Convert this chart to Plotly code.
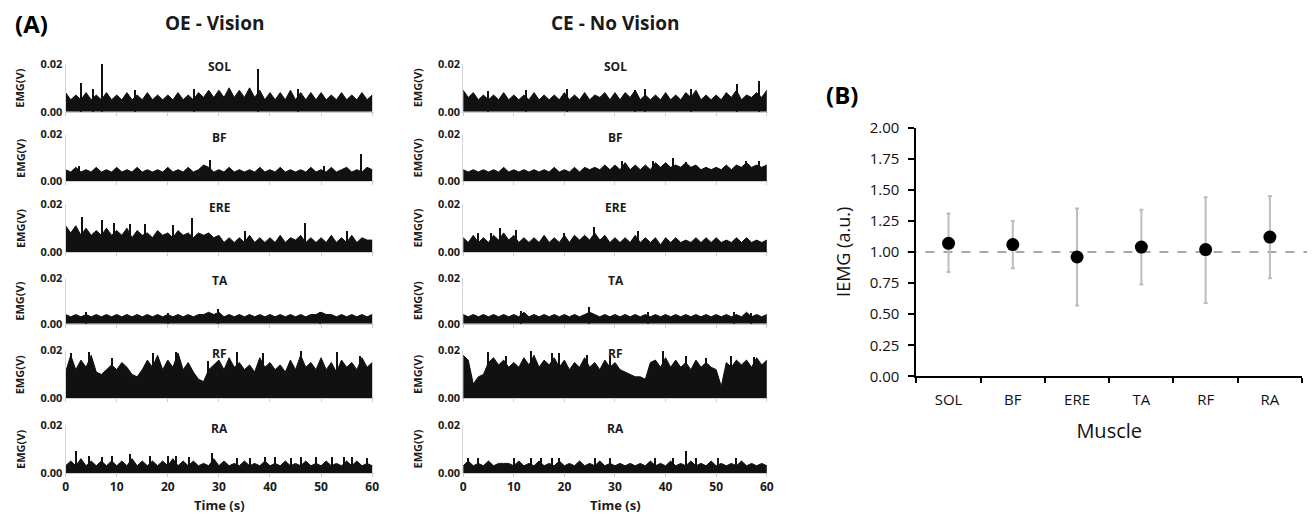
import plotly.graph_objects as go

W, H = 1312, 519

# ---------------- data ----------------
TIME = list(range(0, 61))
TIME_TICKS = [0, 10, 20, 30, 40, 50, 60]
MUSCLES = ["SOL", "BF", "ERE", "TA", "RF", "RA"]

OE_SOL = [0.008,0.005,0.007,0.005,0.008,0.005,0.007,0.005,0.008,0.005,
          0.007,0.005,0.008,0.005,0.007,0.005,0.008,0.005,0.007,0.005,
          0.007,0.005,0.008,0.005,0.007,0.005,0.008,0.006,0.009,0.006,
          0.009,0.006,0.010,0.006,0.009,0.006,0.010,0.006,0.009,0.005,
          0.008,0.005,0.008,0.005,0.009,0.005,0.008,0.005,0.008,0.005,
          0.008,0.005,0.007,0.005,0.008,0.005,0.007,0.005,0.008,0.005,0.007]
OE_SOL_PEAKS = [(3.0,0.012),(7.0,0.020),(37.6,0.018),(5.3,0.0095),(13.5,0.009),(25.0,0.0095),(45.5,0.0095)]

OE_BF = [0.005,0.004,0.006,0.004,0.005,0.004,0.006,0.004,0.005,0.004,
         0.006,0.004,0.005,0.004,0.006,0.004,0.005,0.004,0.005,0.004,
         0.006,0.004,0.005,0.004,0.006,0.004,0.005,0.007,0.006,0.004,
         0.005,0.004,0.006,0.004,0.005,0.004,0.005,0.004,0.006,0.004,
         0.005,0.004,0.006,0.004,0.005,0.004,0.005,0.004,0.006,0.004,
         0.005,0.004,0.006,0.004,0.005,0.006,0.004,0.005,0.004,0.006,0.005]
OE_BF_PEAKS = [(28.1,0.0093),(57.7,0.012),(2.5,0.0068),(50.5,0.0068)]

OE_ERE = [0.011,0.008,0.011,0.007,0.010,0.007,0.009,0.007,0.010,0.007,
          0.009,0.007,0.010,0.006,0.009,0.007,0.008,0.006,0.009,0.007,
          0.008,0.006,0.009,0.007,0.008,0.006,0.008,0.007,0.008,0.006,
          0.007,0.004,0.006,0.004,0.006,0.004,0.007,0.004,0.006,0.004,
          0.006,0.004,0.007,0.004,0.006,0.005,0.007,0.004,0.006,0.004,
          0.006,0.004,0.007,0.004,0.006,0.004,0.007,0.004,0.006,0.005,0.005]
OE_ERE_PEAKS = [(3.2,0.0144),(7.1,0.0133),(9.5,0.012),(12.5,0.0115),(15.5,0.0115),(24.7,0.014),
                (21.0,0.011),(46.7,0.012),(35.0,0.0085),(55.0,0.0085)]

OE_TA = [0.004,0.003,0.004,0.003,0.004,0.003,0.004,0.003,0.004,0.003,
         0.004,0.003,0.004,0.003,0.004,0.003,0.004,0.003,0.004,0.003,
         0.004,0.003,0.004,0.003,0.004,0.003,0.004,0.004,0.005,0.004,
         0.005,0.003,0.004,0.003,0.004,0.003,0.004,0.003,0.004,0.003,
         0.004,0.003,0.004,0.003,0.004,0.003,0.004,0.003,0.004,0.004,
         0.005,0.004,0.004,0.003,0.004,0.003,0.004,0.003,0.004,0.003,0.004]
OE_TA_PEAKS = [(29.7,0.0065),(4.0,0.005),(49.8,0.005),(20.0,0.0048)]

OE_RF = [0.011,0.018,0.012,0.016,0.013,0.018,0.011,0.010,0.012,0.014,
         0.012,0.015,0.013,0.010,0.009,0.012,0.016,0.013,0.018,0.012,
         0.016,0.013,0.019,0.012,0.015,0.011,0.008,0.007,0.012,0.014,
         0.016,0.012,0.017,0.013,0.015,0.012,0.014,0.011,0.017,0.013,
         0.015,0.012,0.014,0.011,0.016,0.012,0.018,0.013,0.015,0.012,
         0.017,0.012,0.015,0.011,0.016,0.013,0.015,0.012,0.017,0.013,0.015]
OE_RF_PEAKS = [(1.0,0.019),(4.5,0.0195),(21.5,0.0195),(17.0,0.019),(33.5,0.0195),(46.0,0.0198),
               (53.0,0.0195),(38.5,0.019),(57.5,0.018),(9.0,0.017),(27.8,0.016)]

OE_RA = [0.003,0.005,0.003,0.006,0.003,0.005,0.003,0.005,0.003,0.005,
         0.003,0.005,0.003,0.006,0.003,0.005,0.003,0.005,0.003,0.005,
         0.003,0.006,0.003,0.005,0.003,0.005,0.003,0.004,0.003,0.006,
         0.003,0.005,0.003,0.004,0.003,0.005,0.003,0.004,0.003,0.005,
         0.003,0.004,0.003,0.005,0.003,0.004,0.003,0.005,0.003,0.004,
         0.003,0.005,0.003,0.004,0.003,0.005,0.003,0.005,0.003,0.004,0.003]
OE_RA_PEAKS = [(2.0,0.009),(12.6,0.0079),(28.5,0.0083),(4.5,0.007),(9.0,0.007),(16.5,0.007),
               (20.0,0.0072),(21.5,0.007),(24.0,0.0065),(33.5,0.0062),(39.0,0.0065),(41.0,0.0068),
               (46.0,0.0065),(49.0,0.0068),(52.0,0.0065),(54.5,0.0068),(56.0,0.0066),(7.0,0.0065),
               (36.0,0.006),(44.0,0.006),(59.0,0.006)]

CE_SOL = [0.009,0.006,0.008,0.005,0.007,0.005,0.007,0.005,0.008,0.005,
          0.007,0.005,0.007,0.005,0.008,0.005,0.007,0.005,0.007,0.005,
          0.008,0.005,0.007,0.005,0.008,0.005,0.007,0.006,0.008,0.005,
          0.008,0.005,0.008,0.006,0.009,0.005,0.007,0.005,0.007,0.005,
          0.008,0.005,0.007,0.005,0.008,0.006,0.009,0.005,0.007,0.005,
          0.007,0.005,0.008,0.006,0.009,0.005,0.007,0.006,0.008,0.006,0.009]
CE_SOL_PEAKS = [(58.6,0.0129),(54.1,0.0117),(20.5,0.0095),(12.5,0.0093),(36.0,0.0095),(34.0,0.0093),
                (45.0,0.0095),(5.0,0.0085)]

CE_BF = [0.005,0.004,0.005,0.004,0.005,0.004,0.005,0.004,0.006,0.004,
         0.005,0.004,0.005,0.004,0.005,0.004,0.005,0.004,0.006,0.004,
         0.005,0.004,0.006,0.004,0.006,0.005,0.006,0.005,0.007,0.005,
         0.007,0.005,0.008,0.005,0.007,0.005,0.007,0.005,0.008,0.006,
         0.008,0.006,0.007,0.006,0.008,0.006,0.007,0.005,0.006,0.005,
         0.006,0.005,0.007,0.005,0.007,0.006,0.008,0.006,0.007,0.006,0.007]
CE_BF_PEAKS = [(31.4,0.0089),(41.5,0.010),(37.5,0.0088),(56.0,0.009),(58.5,0.0088),(44.0,0.0085)]

CE_ERE = [0.006,0.004,0.007,0.004,0.006,0.004,0.007,0.005,0.008,0.005,
          0.007,0.004,0.006,0.004,0.006,0.004,0.007,0.004,0.006,0.004,
          0.007,0.004,0.007,0.005,0.007,0.005,0.008,0.005,0.007,0.004,
          0.006,0.004,0.006,0.004,0.007,0.004,0.006,0.004,0.006,0.003,
          0.006,0.004,0.006,0.004,0.005,0.004,0.006,0.004,0.006,0.004,
          0.006,0.004,0.005,0.004,0.006,0.004,0.006,0.004,0.005,0.004,0.005]
CE_ERE_PEAKS = [(25.8,0.0105),(7.3,0.0098),(10.5,0.009),(3.0,0.0078),(20.0,0.008),(34.5,0.0085),(5.5,0.008)]

CE_TA = [0.004,0.003,0.004,0.003,0.004,0.003,0.004,0.003,0.004,0.003,
         0.004,0.003,0.005,0.003,0.004,0.003,0.004,0.003,0.004,0.003,
         0.004,0.003,0.004,0.003,0.004,0.005,0.004,0.003,0.004,0.003,
         0.004,0.003,0.004,0.003,0.004,0.003,0.004,0.003,0.004,0.003,
         0.004,0.003,0.004,0.003,0.004,0.003,0.004,0.003,0.004,0.003,
         0.004,0.003,0.004,0.003,0.004,0.003,0.005,0.003,0.004,0.003,0.004]
CE_TA_PEAKS = [(24.9,0.0075),(11.5,0.0058),(36.5,0.0052),(53.5,0.005),(57.0,0.0048)]

CE_RF = [0.018,0.016,0.006,0.009,0.010,0.015,0.017,0.014,0.016,0.013,
         0.015,0.013,0.017,0.014,0.018,0.013,0.016,0.014,0.017,0.013,
         0.016,0.012,0.015,0.013,0.017,0.013,0.015,0.012,0.016,0.013,
         0.015,0.012,0.011,0.010,0.009,0.009,0.008,0.015,0.016,0.013,
         0.017,0.013,0.016,0.013,0.015,0.012,0.016,0.013,0.015,0.013,
         0.012,0.005,0.015,0.013,0.016,0.014,0.016,0.013,0.017,0.014,0.016]
CE_RF_PEAKS = [(5.0,0.0195),(13.5,0.0198),(17.5,0.019),(19.0,0.019),(24.5,0.0185),(39.5,0.0198),
               (44.0,0.018),(53.0,0.018),(57.5,0.0175),(8.5,0.018),(29.0,0.018),(37.5,0.016),(48.0,0.017)]

CE_RA = [0.003,0.005,0.003,0.004,0.003,0.005,0.003,0.004,0.004,0.004,
         0.003,0.005,0.003,0.004,0.003,0.005,0.003,0.004,0.003,0.005,
         0.003,0.004,0.003,0.005,0.003,0.004,0.003,0.005,0.003,0.004,
         0.003,0.004,0.003,0.004,0.003,0.004,0.003,0.005,0.003,0.004,
         0.003,0.005,0.003,0.004,0.003,0.005,0.003,0.004,0.003,0.005,
         0.003,0.004,0.003,0.004,0.003,0.005,0.003,0.004,0.003,0.004,0.003]
CE_RA_PEAKS = [(44.0,0.009),(1.0,0.006),(3.0,0.006),(10.0,0.0062),(13.5,0.006),(15.5,0.006),
               (17.5,0.0062),(19.0,0.006),(26.0,0.006),(29.0,0.006),(38.0,0.0062),(41.5,0.006),
               (46.0,0.006),(50.5,0.0062),(54.0,0.006)]

OE_TRACES = [(OE_SOL, OE_SOL_PEAKS), (OE_BF, OE_BF_PEAKS), (OE_ERE, OE_ERE_PEAKS),
             (OE_TA, OE_TA_PEAKS), (OE_RF, OE_RF_PEAKS), (OE_RA, OE_RA_PEAKS)]
CE_TRACES = [(CE_SOL, CE_SOL_PEAKS), (CE_BF, CE_BF_PEAKS), (CE_ERE, CE_ERE_PEAKS),
             (CE_TA, CE_TA_PEAKS), (CE_RF, CE_RF_PEAKS), (CE_RA, CE_RA_PEAKS)]

# Panel B: IEMG ratio (mean and SD)
IEMG_MEAN = [1.07, 1.06, 0.96, 1.04, 1.02, 1.12]
IEMG_SD_PLUS = [0.24, 0.19, 0.39, 0.30, 0.42, 0.33]
IEMG_SD_MINUS = [0.23, 0.19, 0.39, 0.30, 0.43, 0.33]
IEMG_TICKS = [0, 0.25, 0.5, 0.75, 1.0, 1.25, 1.5, 1.75, 2.0]
REFERENCE_LEVEL = 1.0

# ---------------- layout helpers ----------------
def px_x(p):
    return p / W

def px_y(p):
    q = 259.5 + (p - 259.5) * 1.035
    return 1 - q / H

COLS = [(63, 373), (463, 770)]
ROWS = [(62, 110), (133, 180), (203, 251), (277, 323), (350, 398), (425, 473)]
FONT = "Open Sans"
TXT = "#1a1a1a"

fig = go.Figure()
layout = dict(width=W, height=H, margin=dict(l=0, r=0, t=0, b=0),
              paper_bgcolor="white", plot_bgcolor="white", showlegend=False,
              font=dict(family=FONT, color=TXT))
annotations = []

for c, traces in enumerate([OE_TRACES, CE_TRACES]):
    for r, (vals, peaks) in enumerate(traces):
        n = r * 2 + c + 1
        xa = "x" if n == 1 else f"x{n}"
        ya = "y" if n == 1 else f"y{n}"
        fig.add_trace(go.Scatter(x=TIME, y=vals, mode="lines", fill="tozeroy",
                                 line=dict(color="#111111", width=1), fillcolor="#111111",
                                 xaxis=xa, yaxis=ya, hoverinfo="skip"))
        fig.add_trace(go.Bar(x=[p[0] for p in peaks], y=[p[1] for p in peaks], width=0.22,
                             marker=dict(color="#111111", line=dict(width=0)),
                             xaxis=xa, yaxis=ya, hoverinfo="skip"))
        x0, x1 = COLS[c]
        yt, yb = ROWS[r]
        last = r == len(ROWS) - 1
        layout[f"xaxis{n}"] = dict(domain=[px_x(x0), px_x(x1)], anchor=ya, range=[0, 60.3],
                                   showline=True, linecolor="#cfcfcf", linewidth=1,
                                   ticks="outside", ticklen=3, tickcolor="#cfcfcf",
                                   tickvals=TIME_TICKS, showticklabels=last,
                                   ticktext=[f"<b>{t}</b>" for t in TIME_TICKS],
                                   tickfont=dict(size=12, color=TXT),
                                   showgrid=False, zeroline=False, fixedrange=True)
        layout[f"yaxis{n}"] = dict(domain=[px_y(yb), px_y(yt)], anchor=xa, range=[0, 0.02],
                                   showline=True, linecolor="#d6d6d6", linewidth=1,
                                   ticks="", tickvals=[0, 0.02],
                                   ticktext=["<b>0.00</b>", "<b>0.02</b>"],
                                   tickfont=dict(size=11, color=TXT),
                                   showgrid=False, zeroline=False, fixedrange=True)
        annotations.append(dict(text=f"<b>{MUSCLES[r]}</b>", xref=f"{xa} domain", yref=f"{ya} domain",
                                x=0.5, y=1.0, xanchor="center", yanchor="middle", yshift=-3,
                                showarrow=False, font=dict(size=12, color=TXT)))
        annotations.append(dict(text="<b>EMG(V)</b>", xref="paper", yref="paper",
                                x=px_x(x0 - 46), y=px_y((yt + yb) / 2), xanchor="center", yanchor="middle",
                                textangle=-90, showarrow=False, font=dict(size=11, color=TXT)))
    x0, x1 = COLS[c]
    annotations.append(dict(text="<b>Time (s)</b>", xref="paper", yref="paper",
                            x=px_x((x0 + x1) / 2), y=px_y(505), xanchor="center", yanchor="middle",
                            showarrow=False, font=dict(size=13, color=TXT)))

annotations.append(dict(text="<b>OE - Vision</b>", xref="paper", yref="paper", x=px_x(213), y=px_y(21),
                        xanchor="center", yanchor="middle", showarrow=False, font=dict(size=19, color=TXT)))
annotations.append(dict(text="<b>CE - No Vision</b>", xref="paper", yref="paper", x=px_x(616), y=px_y(21),
                        xanchor="center", yanchor="middle", showarrow=False, font=dict(size=19, color=TXT)))
annotations.append(dict(text="<b>(A)</b>", xref="paper", yref="paper", x=px_x(10), y=px_y(21),
                        xanchor="left", yanchor="middle", showarrow=False, font=dict(size=24, color="black")))
annotations.append(dict(text="<b>(B)</b>", xref="paper", yref="paper", x=px_x(826), y=px_y(93),
                        xanchor="left", yanchor="middle", showarrow=False, font=dict(size=24, color="black")))

# ---------------- panel B ----------------
fig.add_trace(go.Scatter(x=MUSCLES, y=IEMG_MEAN, mode="markers",
                         marker=dict(color="black", size=13),
                         error_y=dict(type="data", symmetric=False, array=IEMG_SD_PLUS,
                                      arrayminus=IEMG_SD_MINUS, color="#bdbdbd", thickness=2, width=2),
                         xaxis="x13", yaxis="y13", hoverinfo="skip"))
layout["xaxis13"] = dict(domain=[px_x(919), px_x(1307)], anchor="y13", type="category",
                         categoryorder="array", categoryarray=MUSCLES, range=[-0.5, 5.5],
                         showline=True, linecolor="black", linewidth=2, ticks="outside",
                         tickson="boundaries", ticklen=5, tickwidth=2, tickcolor="black",
                         ticklabelstandoff=9,
                         tickfont=dict(size=15, color="#111"), showgrid=False, zeroline=False,
                         title=dict(text="Muscle", font=dict(size=20, color="#111"), standoff=16),
                         fixedrange=True)
layout["yaxis13"] = dict(domain=[px_y(376), px_y(126)], anchor="x13", range=[0, 2],
                         tickvals=IEMG_TICKS, tickformat=".2f", showline=True, linecolor="black",
                         linewidth=2, ticks="outside", ticklen=6, tickwidth=2, tickcolor="black",
                         ticklabelstandoff=6,
                         tickfont=dict(size=15, color="#111"), showgrid=False, zeroline=False,
                         fixedrange=True)
annotations.append(dict(text="IEMG (a.u.)", xref="paper", yref="paper", x=px_x(845), y=px_y(251),
                        xanchor="center", yanchor="middle", textangle=-90, showarrow=False,
                        font=dict(size=18, color="#111")))

layout["shapes"] = [dict(type="line", xref="paper", yref="y13", x0=px_x(910), x1=1.0,
                         y0=REFERENCE_LEVEL, y1=REFERENCE_LEVEL, layer="below",
                         line=dict(color="#8a8a8a", width=1.5, dash="dash"))]
layout["annotations"] = annotations
layout["bargap"] = 0
fig.update_layout(**layout)

fig.write_html("out.html")
